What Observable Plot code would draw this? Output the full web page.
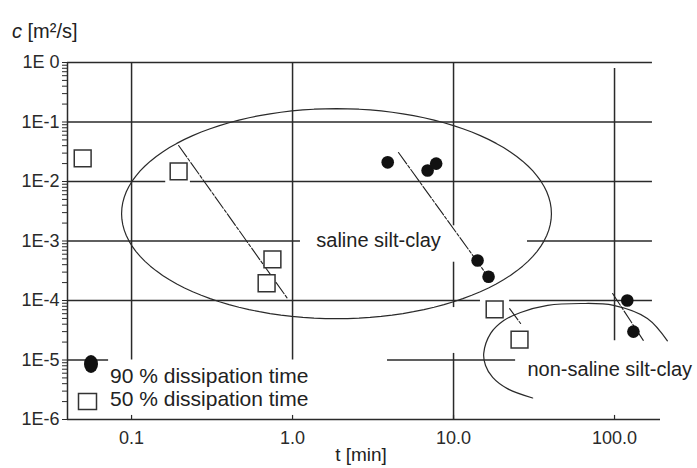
<!DOCTYPE html>
<html><head><meta charset="utf-8">
<script src="https://cdn.jsdelivr.net/npm/d3@7"></script>
<script src="https://cdn.jsdelivr.net/npm/@observablehq/plot@0.6"></script>
<style>
body{margin:0;background:#fff;font-family:"Liberation Sans",Arial,sans-serif;}
#wrap{position:relative;width:697px;height:468px;overflow:hidden;}
.ov{position:absolute;color:#222;white-space:nowrap;line-height:1;}
</style></head><body><div id="wrap"></div>
<script>
// axis ticks
const xTicks = [0.1, 1, 10, 100];
const xTickLabels = ["0.1", "1.0", "10.0", "100.0"];
const yTicks = [1, 0.1, 0.01, 1e-3, 1e-4, 1e-5, 1e-6];
const yTickLabels = ["1E 0", "1E-1", "1E-2", "1E-3", "1E-4", "1E-5", "1E-6"];
const xDomain = [0.04, 193];
const yDomain = [1e-6, 1];

// 50 % dissipation time (open squares)
const p50t = [0.0497, 0.196, 0.75, 0.69, 18.0, 25.7];
const p50c = [0.0244, 0.0148, 4.9e-4, 1.95e-4, 7.1e-5, 2.2e-5];
// 90 % dissipation time (filled dots)
const p90t = [3.9, 6.9, 7.8, 14.1, 16.5, 120, 131];
const p90c = [0.021, 0.0153, 0.020, 4.7e-4, 2.5e-4, 1.0e-4, 3.0e-5];

// trend lines (start / end)
const fitId = ["a", "a", "b", "b", "c", "c", "d", "d"];
const fitT = [0.196, 0.93, 4.55, 17.0, 22.3, 26.1, 97.3, 151];
const fitC = [0.0403, 1.08e-4, 0.0307, 2.2e-4, 7.3e-5, 4.1e-5, 1.31e-4, 2.13e-5];

// saline silt-clay ellipse (centre, radii in decades)
const salineCentre = [1.875, 2.88e-3];
const salineRadii = [1.335, 1.765];

// non-saline silt-clay curve
const nsT = [31.0, 21.6, 17.5, 15.8, 15.4, 17.0, 20.5, 26.1, 38.4, 61.5, 98.6, 160, 213];
const nsC = [2.3e-6, 3.3e-6, 5.1e-6, 8.1e-6, 1.29e-5, 2.8e-5, 4.6e-5, 6.3e-5, 8.3e-5, 8.9e-5, 8.3e-5, 5.0e-5, 2.1e-5];

// grid line segments (as drawn in the original)
const hGridC = [1, 0.1, 0.01, 0.01, 1e-3, 1e-3, 1e-4, 1e-4, 1e-5, 1e-5];
const hGridT1 = [0.04, 0.04, 0.04, 0.232, 0.04, 28.8, 0.04, 22.3, 0.04, 3.89];
const hGridT2 = [172, 172, 0.163, 172, 1.12, 172, 14.7, 172, 0.072, 24.3];
const vGridT = [0.1, 1, 10, 10, 10, 100];
const vGridC1 = [1e-5, 1e-5, 1.8e-3, 7.6e-5, 1e-6, 2.1e-5];
const vGridC2 = [1, 1, 1, 4.4e-4, 1.29e-5, 0.79];

// annotations
const annText = ["saline silt-clay", "non-saline silt-clay"];
const annT = [3.42, 28.8];
const annC = [1e-3, 6.9e-6];
const annAnchor = ["middle", "start"];

// ---- tables built from the arrays ----
const p50 = p50t.map((t, i) => ({t, c: p50c[i]}));
const p90 = p90t.map((t, i) => ({t, c: p90c[i]}));
const fits = fitT.map((t, i) => ({id: fitId[i], t, c: fitC[i]}));
const ns = nsT.map((t, i) => ({t, c: nsC[i]}));
const hGrid = hGridC.map((c, i) => ({c, t1: hGridT1[i], t2: hGridT2[i]}));
const vGrid = vGridT.map((t, i) => ({t, c1: vGridC1[i], c2: vGridC2[i]}));
const ann = annText.map((s, i) => ({s, t: annT[i], c: annC[i], a: annAnchor[i]}));
const ellipse = d3.range(0, 361, 3).map(deg => {
  const a = deg * Math.PI / 180;
  return {
    t: Math.pow(10, Math.log10(salineCentre[0]) + salineRadii[0] * Math.cos(a)),
    c: Math.pow(10, Math.log10(salineCentre[1]) + salineRadii[1] * Math.sin(a))
  };
});
const minorY = [];
for (let e = -6; e < 0; e++) for (let m = 2; m <= 9; m++) minorY.push(m * Math.pow(10, e));

const ink = "#2a2a2a";
const chart = Plot.plot({
  width: 697, height: 468,
  marginLeft: 67, marginRight: 37, marginTop: 62, marginBottom: 49,
  style: {fontFamily: "Liberation Sans, Arial, sans-serif", fontSize: "18px", color: ink, background: "white"},
  x: {type: "log", domain: xDomain},
  y: {type: "log", domain: yDomain},
  marks: [
    Plot.ruleY(hGrid, {y: "c", x1: "t1", x2: "t2", stroke: ink, strokeWidth: 1.5}),
    Plot.ruleX(vGrid, {x: "t", y1: "c1", y2: "c2", stroke: ink, strokeWidth: 1.5}),
    Plot.ruleX([xDomain[0]], {stroke: ink, strokeWidth: 1.5}),
    Plot.ruleY([yDomain[0]], {stroke: ink, strokeWidth: 1.5, x1: xDomain[0], x2: xDomain[1]}),
    Plot.ruleX(xTicks, {x: d => d, y1: yDomain[0], y2: 1.17e-6, stroke: ink, strokeWidth: 1.2}),
    Plot.axisY({ticks: minorY, tickFormat: () => "", tickSize: 5, stroke: ink}),
    Plot.axisY({ticks: yTicks, tickFormat: d => yTickLabels[yTicks.indexOf(d)], tickSize: 5, tickPadding: 3, fontSize: 18, stroke: ink}),
    Plot.axisX({ticks: xTicks, tickFormat: d => xTickLabels[xTicks.indexOf(d)], tickSize: 0, tickPadding: 12, fontSize: 18, label: null}),
    Plot.line(ellipse, {x: "t", y: "c", stroke: ink, strokeWidth: 1.2}),
    Plot.line(ns, {x: "t", y: "c", stroke: ink, strokeWidth: 1.2, curve: "catmull-rom"}),
    Plot.line(fits, {x: "t", y: "c", z: "id", stroke: "#222", strokeWidth: 1.1, strokeDasharray: "14,2,3,2"}),
    Plot.dot(p50, {x: "t", y: "c", symbol: "square", r: 9.5, fill: "white", stroke: "#333", strokeWidth: 1.5}),
    Plot.dot(p90, {x: "t", y: "c", r: 6.3, fill: "#111"}),
    Plot.text(ann, {x: "t", y: "c", text: "s", textAnchor: "start", filter: d => d.a === "start", fontSize: 20, fill: "#222"}),
    Plot.text(ann, {x: "t", y: "c", text: "s", textAnchor: "middle", filter: d => d.a === "middle", fontSize: 20, fill: "#222", stroke: "white", strokeWidth: 8}),
    Plot.text(["t [min]"], {frameAnchor: "bottom", dx: -3, dy: 41, fontSize: 19, fill: "#222"})
  ]
});
const wrap = document.getElementById("wrap");
wrap.appendChild(chart);

// y title
const yt = document.createElement("div");
yt.className = "ov";
yt.style.cssText = "left:12px;top:21px;font-size:20px;";
yt.innerHTML = "<i>c</i> [m²/s]";
wrap.appendChild(yt);

// legend
const ns_ = "http://www.w3.org/2000/svg";
const lg = document.createElementNS(ns_, "svg");
lg.setAttribute("width", 697); lg.setAttribute("height", 468);
lg.style.cssText = "position:absolute;left:0;top:0;pointer-events:none;";
lg.innerHTML = '<ellipse cx="91" cy="364" rx="7" ry="9" fill="#111"/>' +
  '<rect x="78.5" y="393.5" width="18" height="16" fill="white" stroke="#333" stroke-width="1.5"/>';
wrap.appendChild(lg);
const legendLabels = ["90 % dissipation time", "50 % dissipation time"];
legendLabels.forEach((s, i) => {
  const d = document.createElement("div");
  d.className = "ov";
  d.style.cssText = `left:110px;top:${365 + i * 23}px;font-size:21px;`;
  d.textContent = s;
  wrap.appendChild(d);
});
</script></body></html>
